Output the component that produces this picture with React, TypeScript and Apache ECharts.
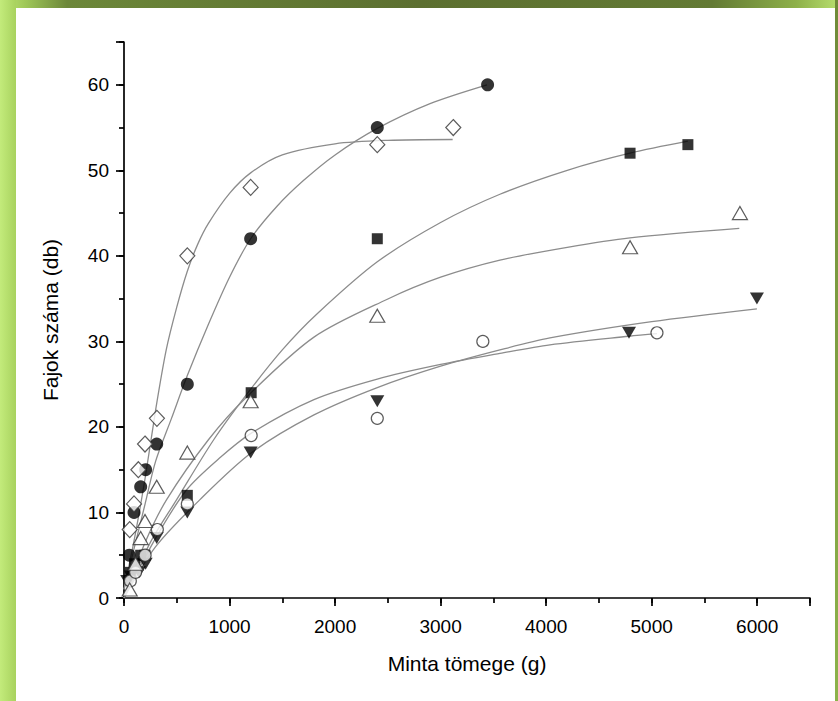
import React, { useEffect, useRef } from "react";
import * as echarts from "echarts";

// ---- measured points (x: Minta tömege g, y: Fajok száma db) ----
const filledCircles = [[50, 5], [95, 10], [158, 13], [205, 15], [310, 18], [600, 25], [1200, 42], [2400, 55], [3445, 60]];
const openDiamonds = [[54, 8], [95, 11], [136, 15], [199, 18], [312, 21], [600, 40], [1200, 48], [2400, 53], [3120, 55]];
const filledSquares = [[60, 3], [100, 4], [158, 5], [199, 5], [600, 12], [1205, 24], [2400, 42], [4795, 52], [5343, 53]];
const openTriangles = [[54, 1], [110, 4], [158, 7], [199, 9], [310, 13], [600, 17], [1200, 23], [2400, 33], [4795, 41], [5836, 45]];
const openCircles = [[60, 2], [110, 3], [200, 5], [316, 8], [600, 11], [1205, 19], [2400, 21], [3400, 30], [5050, 31]];
const filledDownTriangles = [[30, 2], [64, 2.5], [142, 3], [205, 4], [310, 7], [600, 10], [1200, 17], [2400, 23], [4785, 31], [5997, 35]];

// ---- fitted curves ----
const curveDiamonds = [[0, 1], [100, 7], [200, 14], [300, 22], [400, 29], [500, 34], [600, 38.2], [700, 41.4], [800, 43.8], [1000, 47.3], [1200, 49.7], [1500, 51.8], [2000, 53.1], [2500, 53.5], [3114, 53.6]];
const curveCircles = [[0, 1], [100, 6], [200, 11], [300, 16], [450, 21], [600, 26], [800, 32], [1000, 37.5], [1200, 42], [1450, 45.8], [1700, 48.8], [2000, 51.8], [2400, 54.9], [2900, 57.8], [3440, 60]];
const curveSquares = [[0, 0], [250, 6.5], [499, 11.5], [850, 18.5], [1162, 23.8], [1500, 29], [1828, 33.2], [2400, 39.3], [3000, 43.9], [3562, 47.2], [4200, 50], [4794, 52], [5343, 53.4]];
const curveTriangles = [[0, 0], [200, 6.5], [404, 11.5], [800, 18.5], [1162, 23.5], [1800, 30.5], [2490, 34.9], [3000, 37.5], [3562, 39.5], [4200, 41], [4794, 42.1], [5830, 43.2]];
const curveOpenCircles = [[0, 0], [300, 7], [590, 12.6], [900, 16.3], [1210, 19.3], [1800, 23.2], [2400, 25.6], [3000, 27.3], [3562, 28.6], [4036, 29.6], [4785, 30.6], [5050, 30.9]];
const curveDownTriangles = [[0, 0], [300, 6], [720, 11.5], [1210, 17], [1800, 21.4], [2400, 24.6], [3000, 27.1], [3562, 29], [4036, 30.4], [5000, 32.3], [5997, 33.8]];

const X_MIN = 0;
const X_MAX = 6500;
const X_MAJOR = 1000;
const X_MINOR = 500;
const Y_MIN = 0;
const Y_MAX = 65;
const Y_MAJOR = 10;
const Y_MINOR = 5;
const X_NAME = "Minta tömege (g)";
const Y_NAME = "Fajok száma (db)";

const FONT = "'Liberation Sans', Arial, Helvetica, sans-serif";

export default function App() {
  const ref = useRef<HTMLDivElement>(null);
  useEffect(() => {
    document.body.style.margin = "0";
    const chart = echarts.init(ref.current!, null, { renderer: "svg" });
    const axisLine = { show: true, lineStyle: { color: "#000", width: 1.7 } };
    const curve = (data: number[][]) => ({
      type: "line",
      data,
      smooth: 0.3,
      showSymbol: false,
      symbol: "none",
      silent: true,
      z: 1,
      lineStyle: { color: "#8c8c8c", width: 1.3 },
    });
    const filled = { color: "#000" };
    const open = { color: "#fff", borderColor: "#333", borderWidth: 1.2 };
    chart.setOption({
      animation: false,
      grid: { left: 124, right: 28, top: 42, bottom: 103 },
      xAxis: [
        {
          type: "value",
          min: X_MIN,
          max: X_MAX,
          interval: X_MAJOR,
          position: "bottom",
          axisLine,
          axisTick: { show: true, length: 8, lineStyle: { color: "#000", width: 1.7 } },
          axisLabel: {
            color: "#000",
            fontSize: 19,
            fontFamily: FONT,
            margin: 19,
            formatter: (v: number) => (v % X_MAJOR === 0 ? String(v) : ""),
          },
          splitLine: { show: false },
          name: X_NAME,
          nameLocation: "middle",
          nameGap: 55,
          nameTextStyle: { color: "#000", fontSize: 21, fontFamily: FONT },
        },
        {
          type: "value",
          min: X_MIN,
          max: X_MAX,
          interval: X_MINOR,
          position: "bottom",
          axisLine: { show: false },
          axisTick: { show: true, length: 5, lineStyle: { color: "#000", width: 1.7 } },
          axisLabel: { show: false },
          splitLine: { show: false },
        },
      ],
      yAxis: [
        {
          type: "value",
          min: Y_MIN,
          max: Y_MAX,
          interval: Y_MAJOR,
          position: "left",
          axisLine,
          axisTick: { show: true, length: 8, lineStyle: { color: "#000", width: 1.7 } },
          axisLabel: {
            color: "#000",
            fontSize: 19,
            fontFamily: FONT,
            margin: 15,
            formatter: (v: number) => (v % Y_MAJOR === 0 ? String(v) : ""),
          },
          splitLine: { show: false },
          name: Y_NAME,
          nameLocation: "middle",
          nameGap: 63,
          nameTextStyle: { color: "#000", fontSize: 21, fontFamily: FONT },
        },
        {
          type: "value",
          min: Y_MIN,
          max: Y_MAX,
          interval: Y_MINOR,
          position: "left",
          axisLine: { show: false },
          axisTick: { show: true, length: 5, lineStyle: { color: "#000", width: 1.7 } },
          axisLabel: { show: false },
          splitLine: { show: false },
        },
      ],
      series: [
        curve(curveDiamonds),
        curve(curveCircles),
        curve(curveSquares),
        curve(curveTriangles),
        curve(curveOpenCircles),
        curve(curveDownTriangles),
        { type: "scatter", data: filledSquares, symbol: "rect", symbolSize: 11, itemStyle: filled, z: 3 },
        { type: "scatter", data: filledDownTriangles, symbol: "triangle", symbolRotate: 180, symbolSize: [14, 12], itemStyle: filled, z: 3 },
        { type: "scatter", data: filledCircles, symbol: "circle", symbolSize: 13, itemStyle: filled, z: 3 },
        { type: "scatter", data: openCircles, symbol: "circle", symbolSize: 12, itemStyle: open, z: 4 },
        { type: "scatter", data: openTriangles, symbol: "triangle", symbolSize: [15, 13], itemStyle: open, z: 4 },
        { type: "scatter", data: openDiamonds, symbol: "diamond", symbolSize: [15, 16], itemStyle: open, z: 4 },
      ],
    });
    return () => chart.dispose();
  }, []);

  return (
    <div
      style={{
        position: "relative",
        width: 838,
        height: 701,
        overflow: "hidden",
        background:
          "linear-gradient(90deg, #c0e876 0%, #9fc858 3%, #6c8739 8%, #5c6f30 50%, #637a34 85%, #8db049 95%, #b7de6e 100%)",
      }}
    >
      <div style={{ position: "absolute", left: 0, top: 0, width: 16, height: 701, background: "linear-gradient(90deg, #c3eb7b, #a8d25e)" }} />
      <div style={{ position: "absolute", right: 0, top: 0, width: 3, height: 701, background: "linear-gradient(180deg, #6f8a38, #8cb24a)" }} />
      <div style={{ position: "absolute", left: 16, top: 8, width: 819, height: 693, background: "#fff" }} />
      <div ref={ref} style={{ position: "absolute", left: 0, top: 0, width: 838, height: 701 }} />
    </div>
  );
}
